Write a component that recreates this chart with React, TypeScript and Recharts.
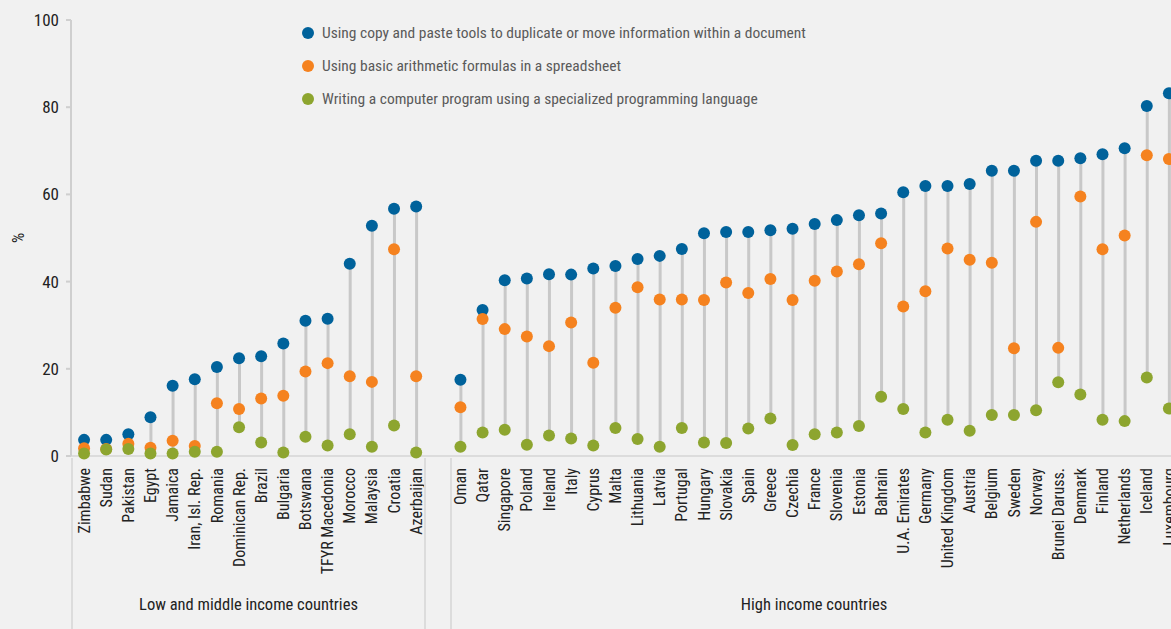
import { ComposedChart, Bar, Line, XAxis, YAxis, Legend } from "recharts";

const countries = [
  "Zimbabwe", "Sudan", "Pakistan", "Egypt", "Jamaica", "Iran, Isl. Rep.", "Romania", "Dominican Rep.",
  "Brazil", "Bulgaria", "Botswana", "TFYR Macedonia", "Morocco", "Malaysia", "Croatia", "Azerbaijan",
  "",
  "Oman", "Qatar", "Singapore", "Poland", "Ireland", "Italy", "Cyprus", "Malta", "Lithuania", "Latvia",
  "Portugal", "Hungary", "Slovakia", "Spain", "Greece", "Czechia", "France", "Slovenia", "Estonia",
  "Bahrain", "U.A. Emirates", "Germany", "United Kingdom", "Austria", "Belgium", "Sweden", "Norway",
  "Brunei Daruss.", "Denmark", "Finland", "Netherlands", "Iceland", "Luxembourg",
];

const copyPaste = [
  3.7, 3.7, 5.0, 8.9, 16.1, 17.6, 20.4, 22.4, 22.9, 25.8, 31.0, 31.5, 44.1, 52.8, 56.7, 57.2,
  null,
  17.5, 33.5, 40.3, 40.7, 41.7, 41.6, 43.0, 43.6, 45.2, 45.9, 47.5, 51.1, 51.4, 51.4, 51.8, 52.1,
  53.2, 54.1, 55.2, 55.6, 60.5, 61.9, 61.9, 62.4, 65.4, 65.4, 67.7, 67.7, 68.3, 69.2, 70.6, 80.3, 83.2,
];

const arithmetic = [
  1.8, 1.6, 2.8, 1.9, 3.5, 2.3, 12.1, 10.8, 13.2, 13.8, 19.4, 21.3, 18.3, 17.0, 47.4, 18.3,
  null,
  11.2, 31.4, 29.1, 27.4, 25.2, 30.6, 21.4, 34.0, 38.7, 35.9, 35.9, 35.8, 39.8, 37.4, 40.6, 35.8,
  40.2, 42.3, 44.0, 48.8, 34.3, 37.8, 47.6, 45.0, 44.3, 24.7, 53.7, 24.8, 59.5, 47.4, 50.6, 69.0, 68.1,
];

const programming = [
  0.6, 1.5, 1.6, 0.6, 0.6, 1.0, 1.0, 6.6, 3.1, 0.8, 4.4, 2.4, 5.0, 2.1, 7.0, 0.8,
  null,
  2.1, 5.4, 6.0, 2.6, 4.7, 4.0, 2.4, 6.4, 3.9, 2.1, 6.4, 3.1, 3.0, 6.3, 8.6, 2.5,
  5.0, 5.4, 6.9, 13.6, 10.8, 5.4, 8.3, 5.8, 9.4, 9.4, 10.5, 16.9, 14.1, 8.3, 8.0, 18.0, 10.9,
];

const yTicks = [0, 20, 40, 60, 80, 100];

const seriesNames = [
  "Using copy and paste tools to duplicate or move information within a document",
  "Using basic arithmetic formulas in a spreadsheet",
  "Writing a computer program using a specialized programming language",
];
const seriesColors = ["#00629b", "#f5821f", "#8da52f"];

const groups = [
  { label: "Low and middle income countries", left: 72, right: 425 },
  { label: "High income countries", left: 451, right: 1177 },
];

const data = countries.map((name, i) => {
  const vals = [copyPaste[i], arithmetic[i], programming[i]];
  const has = vals.every((v) => v != null);
  return {
    name,
    copy: copyPaste[i],
    arith: arithmetic[i],
    prog: programming[i],
    range: has ? [Math.min(...(vals as number[])), Math.max(...(vals as number[]))] : null,
  };
});

const FONT = '"Roboto Condensed", "Liberation Sans Narrow", "DejaVu Sans Condensed", Roboto, sans-serif';

const CountryTick = ({ x, y, payload }: any) => (
  <g transform={`translate(${x},${y + 4})`}>
    <text transform="rotate(-90)" textAnchor="end" dy="0.35em" fontSize={16} fill="#222">
      {payload.value}
    </text>
  </g>
);

const renderLegend = () => (
  <div style={{ fontFamily: FONT }}>
    {seriesNames.map((name, i) => (
      <div key={name} style={{ display: "flex", alignItems: "center", height: 33 }}>
        <span
          style={{
            width: 12,
            height: 12,
            borderRadius: 6,
            background: seriesColors[i],
            marginRight: 8,
            flex: "none",
          }}
        />
        <span style={{ fontSize: 15.5, color: "#5a5a5a", whiteSpace: "nowrap" }}>{name}</span>
      </div>
    ))}
  </div>
);

export default function App() {
  return (
    <div
      style={{
        position: "absolute",
        left: 0,
        top: 0,
        width: 1171,
        height: 629,
        overflow: "hidden",
        background: "#f1f1f1",
        fontFamily: FONT,
      }}
    >
      <ComposedChart
        width={1180}
        height={629}
        data={data}
        margin={{ top: 20, right: 0, bottom: 0, left: 10 }}
      >
        <XAxis
          dataKey="name"
          interval={0}
          height={173}
          padding={{ left: 2, right: 0 }}
          tick={<CountryTick />}
          tickLine={false}
          axisLine={{ stroke: "#dcdcdc", strokeWidth: 2 }}
        />
        <YAxis
          domain={[0, 100]}
          ticks={yTicks}
          width={61}
          tickSize={5}
          tickMargin={7}
          tick={{ fill: "#222", fontSize: 17 }}
          axisLine={{ stroke: "#cfcfcf", strokeWidth: 2 }}
          tickLine={{ stroke: "#cfcfcf", strokeWidth: 2 }}
          label={({ viewBox }: any) => (
            <text
              x={viewBox.x + 8}
              y={viewBox.y + viewBox.height / 2}
              transform={`rotate(-90, ${viewBox.x + 8}, ${viewBox.y + viewBox.height / 2})`}
              textAnchor="middle"
              dy="0.35em"
              fontSize={16}
              fill="#222"
            >
              %
            </text>
          )}
        />
        <Legend
          layout="horizontal"
          verticalAlign="middle"
          align="center"
          content={renderLegend}
          wrapperStyle={{ top: 16, left: 302, width: 600, height: 100 }}
        />
        <Bar dataKey="range" barSize={3} fill="#c8c8c8" legendType="none" isAnimationActive={false} />
        <Line
          dataKey="copy"
          name={seriesNames[0]}
          stroke="none"
          dot={{ r: 6, fill: seriesColors[0], stroke: "none" }}
          activeDot={false}
          isAnimationActive={false}
        />
        <Line
          dataKey="arith"
          name={seriesNames[1]}
          stroke="none"
          dot={{ r: 6, fill: seriesColors[1], stroke: "none" }}
          activeDot={false}
          isAnimationActive={false}
        />
        <Line
          dataKey="prog"
          name={seriesNames[2]}
          stroke="none"
          dot={{ r: 6, fill: seriesColors[2], stroke: "none" }}
          activeDot={false}
          isAnimationActive={false}
        />
      </ComposedChart>

      {groups.map((g) => (
        <div key={g.label}>
          <div style={{ position: "absolute", left: g.left - 1, top: 458, width: 2, height: 171, background: "#dcdcdc" }} />
          {g.right < 1171 && (
            <div style={{ position: "absolute", left: g.right - 1, top: 458, width: 2, height: 171, background: "#dcdcdc" }} />
          )}
          <div
            style={{
              position: "absolute",
              left: g.left,
              width: g.right - g.left,
              top: 595,
              textAlign: "center",
              fontSize: 16.5,
              color: "#222",
            }}
          >
            {g.label}
          </div>
        </div>
      ))}
    </div>
  );
}
